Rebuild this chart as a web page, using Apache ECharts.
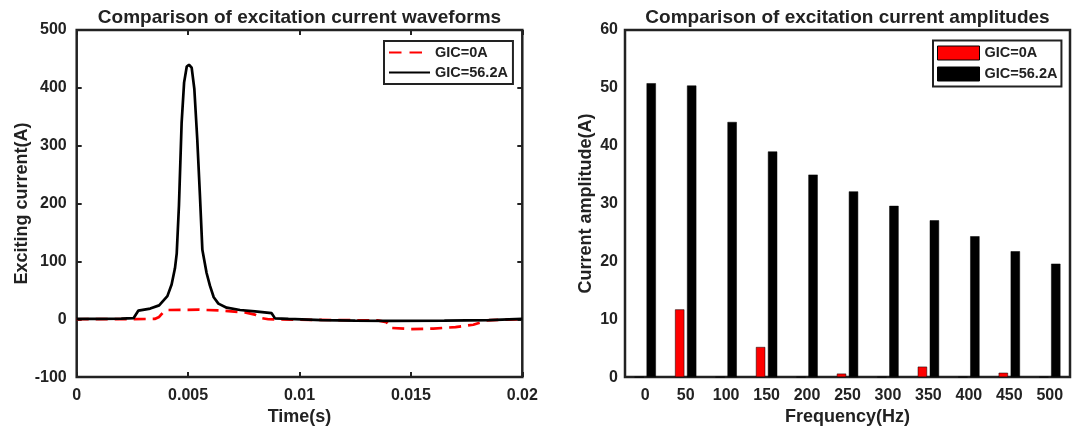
<!DOCTYPE html>
<html>
<head>
<meta charset="utf-8">
<script src="https://cdn.jsdelivr.net/npm/echarts@6/dist/echarts.min.js"></script>
<style>
  html, body { margin: 0; padding: 0; background: #fff; }
  #chart { width: 1078px; height: 431px; }
</style>
</head>
<body>
<div id="chart"></div>
<script>
// Excitation current waveforms over one cycle (s, A)
const timeGic0 = [0, 0.0025, 0.0035, 0.0037, 0.0039, 0.0041, 0.0055, 0.0065, 0.0076, 0.0080, 0.0083, 0.0086,
                  0.0105, 0.0135, 0.0139, 0.0141, 0.0150, 0.0160, 0.0170, 0.0178, 0.0181, 0.0184, 0.0190, 0.0200];
const currentGic0 = [0, 0.3, 0.5, 4, 13, 16, 16.5, 15, 11.5, 8, 2, 0,
                     -1, -2, -5, -15, -17, -16.2, -13.5, -9.5, -6, -2, -1, 0];

const timeGic56 = [0, 0.001, 0.002, 0.00255, 0.00277, 0.0033, 0.0037, 0.00407, 0.00426, 0.00441, 0.00449,
                   0.00459, 0.00471, 0.00482, 0.00494, 0.00504, 0.00516, 0.00528, 0.00541, 0.00553, 0.00564,
                   0.00583, 0.00598, 0.00615, 0.00636, 0.00673, 0.00733, 0.0080, 0.00875, 0.0089, 0.0095,
                   0.011, 0.0125, 0.014, 0.0165, 0.0185, 0.0200];
const currentGic56 = [0.5, 0.8, 1.2, 1.8, 15, 18.5, 24, 40, 60, 88, 114,
                      197, 340, 409, 437, 440, 435, 398, 312, 215, 120,
                      80, 58, 38, 27, 20, 16, 13.5, 10.5, 1.5, 0.5,
                      -1.5, -2.5, -2.8, -2.5, -1.5, 0.8];

// Harmonic amplitudes (Hz, A)
const freqHz = ['0', '50', '100', '150', '200', '250', '300', '350', '400', '450', '500'];
const ampGic0 = [0, 11.7, 0, 5.2, 0, 0.6, 0, 1.8, 0, 0.75, 0];
const ampGic56 = [50.8, 50.4, 44.1, 39.0, 35.0, 32.1, 29.6, 27.1, 24.35, 21.75, 19.6];

const FONT = '"Liberation Sans", Arial, Helvetica, sans-serif';
const INK = '#222222';
const RED = '#ff0000';

const tick = { inside: true, length: 5, lineStyle: { color: INK, width: 2 } };
const noLine = { show: false, onZero: false };
const label = { fontSize: 16, fontWeight: 'bold', color: INK, fontFamily: FONT };
const nameStyle = { fontSize: 18, fontWeight: 'bold', color: INK, fontFamily: FONT };
const legendText = { fontSize: 14.5, fontWeight: 'bold', color: INK, fontFamily: FONT };

const pairs = (xs, ys) => xs.map((x, i) => [x, ys[i]]);

const chart = echarts.init(document.getElementById('chart'), null, { renderer: 'canvas' });

chart.setOption({
  backgroundColor: '#fff',
  animation: false,
  title: [
    { text: 'Comparison of excitation current waveforms', left: 299.5, top: 8, textAlign: 'center', padding: 0,
      textStyle: { fontSize: 19, fontWeight: 'bold', color: INK, fontFamily: FONT } },
    { text: 'Comparison of excitation current amplitudes', left: 847.5, top: 8, textAlign: 'center', padding: 0,
      textStyle: { fontSize: 19, fontWeight: 'bold', color: INK, fontFamily: FONT } }
  ],
  grid: [
    { left: 76.7, top: 30, width: 445.6, height: 349.3, show: true, borderColor: INK, borderWidth: 2.5, containLabel: false },
    { left: 625, top: 30, width: 445, height: 349.5, show: true, borderColor: INK, borderWidth: 2.5, containLabel: false }
  ],
  legend: [
    {
      data: [
        { name: 'GIC=0A', lineStyle: { type: [12.5, 8] } },
        { name: 'GIC=56.2A' }
      ],
      orient: 'vertical', left: 384, top: 41,
      itemWidth: 41, itemHeight: 14, itemGap: 5, padding: [4, 5, 4, 4],
      borderColor: INK, borderWidth: 2, backgroundColor: '#fff',
      itemStyle: { opacity: 0 },
      textStyle: legendText
    },
    {
      data: [
        { name: 'GIC=0A', icon: 'rect', itemStyle: { color: RED, borderColor: '#000', borderWidth: 1, opacity: 1 } },
        { name: 'GIC=56.2A', icon: 'rect', itemStyle: { color: '#000', borderColor: '#000', borderWidth: 1, opacity: 1 } }
      ],
      orient: 'vertical', left: 933, top: 40.5,
      itemWidth: 42, itemHeight: 14, itemGap: 6, padding: [5, 4, 5, 4],
      borderColor: INK, borderWidth: 2, backgroundColor: '#fff',
      textStyle: legendText
    }
  ],
  xAxis: [
    { gridIndex: 0, type: 'value', min: 0, max: 0.02, interval: 0.005, position: 'bottom',
      axisLine: noLine, axisTick: tick, splitLine: { show: false },
      axisLabel: Object.assign({ margin: 10, formatter: v => String(+v.toFixed(3)) }, label),
      name: 'Time(s)', nameLocation: 'middle', nameGap: 30, nameTextStyle: nameStyle },
    { gridIndex: 0, type: 'value', min: 0, max: 0.02, interval: 0.005, position: 'top',
      axisLine: noLine, axisTick: tick, splitLine: { show: false }, axisLabel: { show: false } },
    { gridIndex: 1, type: 'category', data: freqHz, position: 'bottom',
      axisLine: noLine, axisTick: Object.assign({ alignWithLabel: true, interval: 0 }, tick),
      splitLine: { show: false },
      axisLabel: Object.assign({ margin: 10, interval: 0 }, label),
      name: 'Frequency(Hz)', nameLocation: 'middle', nameGap: 30, nameTextStyle: nameStyle },
    { gridIndex: 1, type: 'category', data: freqHz, position: 'top',
      axisLine: noLine, axisTick: Object.assign({ alignWithLabel: true, interval: 0 }, tick),
      splitLine: { show: false }, axisLabel: { show: false } }
  ],
  yAxis: [
    { gridIndex: 0, type: 'value', min: -100, max: 500, interval: 100, position: 'left',
      axisLine: noLine, axisTick: tick, splitLine: { show: false },
      axisLabel: Object.assign({ margin: 10 }, label),
      name: 'Exciting current(A)', nameLocation: 'middle', nameGap: 45, nameRotate: 90, nameTextStyle: nameStyle },
    { gridIndex: 0, type: 'value', min: -100, max: 500, interval: 100, position: 'right',
      axisLine: noLine, axisTick: tick, splitLine: { show: false }, axisLabel: { show: false } },
    { gridIndex: 1, type: 'value', min: 0, max: 60, interval: 10, position: 'left',
      axisLine: noLine, axisTick: tick, splitLine: { show: false },
      axisLabel: Object.assign({ margin: 7 }, label),
      name: 'Current amplitude(A)', nameLocation: 'middle', nameGap: 30, nameRotate: 90, nameTextStyle: nameStyle },
    { gridIndex: 1, type: 'value', min: 0, max: 60, interval: 10, position: 'right',
      axisLine: noLine, axisTick: tick, splitLine: { show: false }, axisLabel: { show: false } }
  ],
  series: [
    { name: 'GIC=0A', type: 'line', xAxisIndex: 0, yAxisIndex: 0, data: pairs(timeGic0, currentGic0),
      symbol: 'none', itemStyle: { color: RED }, lineStyle: { color: RED, width: 2.7, type: [12, 7] } },
    { name: 'GIC=56.2A', type: 'line', xAxisIndex: 0, yAxisIndex: 0, data: pairs(timeGic56, currentGic56),
      symbol: 'none', itemStyle: { color: '#000' }, lineStyle: { color: '#000', width: 2.7 } },
    { name: 'GIC=0A', type: 'bar', xAxisIndex: 2, yAxisIndex: 2, data: ampGic0,
      barWidth: 9.3, barGap: '29%', itemStyle: { color: RED, borderColor: '#000', borderWidth: 0.5 } },
    { name: 'GIC=56.2A', type: 'bar', xAxisIndex: 2, yAxisIndex: 2, data: ampGic56,
      barWidth: 9.3, barGap: '29%', itemStyle: { color: '#000', borderColor: '#000', borderWidth: 0.5 } }
  ]
});
</script>
</body>
</html>
